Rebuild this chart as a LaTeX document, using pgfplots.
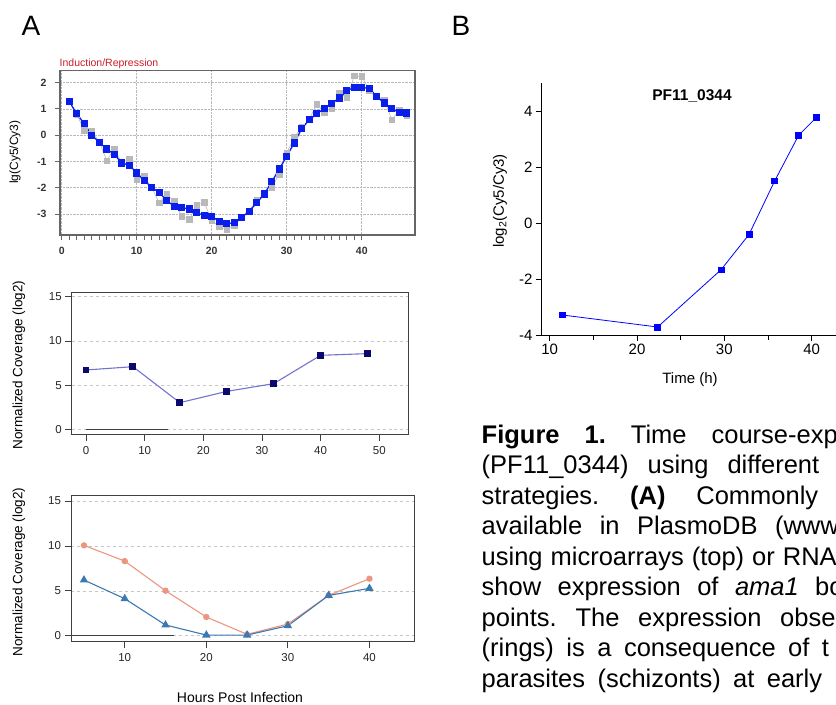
\documentclass[border=0pt]{standalone}
\usepackage{fontspec}
\setmainfont{Liberation Sans}
\usepackage{pgfplots}
\pgfplotsset{compat=1.18}

\definecolor{abblue}{RGB}{10,30,235}
\definecolor{abgray}{RGB}{185,185,185}
\definecolor{navy}{RGB}{10,10,110}
\definecolor{slate}{RGB}{115,115,205}
\definecolor{salmon}{RGB}{234,150,128}
\definecolor{steel}{RGB}{60,120,178}
\definecolor{redtitle}{RGB}{200,30,40}

\newcommand{\fs}[2]{\fontsize{#1bp}{#2bp}\selectfont}
\newcommand{\gap}[1]{\hspace*{#1bp}}

\pgfplotsset{
  panel/.style={scale only axis, anchor=south west, clip=false,
    tick align=outside, tick pos=left,
    /pgf/number format/assume math mode=true},
  rna/.style={panel,
    ytick={0,5,10,15}, ymajorgrids,
    grid style={dashed, gray!45, line width=0.5bp},
    axis line style={black!75, line width=0.9bp},
    every tick/.style={black!75, line width=0.8bp},
    major tick length=6.5bp,
    tick label style={font=\fs{11.5}{13}, text=black!85},
    xticklabel style={yshift=-2bp}},
}

\begin{document}
\begin{tikzpicture}
\useasboundingbox (0,0) rectangle (836bp,-705bp);
\clip (0,0) rectangle (836bp,-705bp);

% panel letters
\node[anchor=base west, inner sep=0, font=\fs{28}{30}] at (21.5bp,-35bp) {A};
\node[anchor=base west, inner sep=0, font=\fs{28}{30}] at (451.5bp,-35bp) {B};

% ---- A top: microarray
\node[anchor=base west, inner sep=0, font=\fs{10.5}{12}, text=redtitle] at (59.5bp,-66bp) {Induction/Repression};
\node[rotate=90, font=\fs{12}{14}] at (15bp,-152bp) {lg(Cy5/Cy3)};
\begin{axis}[panel, at={(60bp,-235bp)}, width=355bp, height=164.3bp,
  xmin=-0.23, xmax=47.1, ymin=-3.8, ymax=2.45,
  xtick={0,10,20,30,40}, ytick={-3,-2,-1,0,1,2}, minor x tick num=9,
  grid=major, major grid style={densely dotted, gray!55, line width=0.6bp},
  axis line style={black!60, line width=1.4bp},
  every tick/.style={black!60, line width=0.7bp},
  major tick length=5bp, minor tick length=5bp,
  tick label style={font=\fs{10.5}{12}\bfseries, text=black!80},
  xticklabel style={yshift=-4bp}, yticklabel style={xshift=-5bp}]
\addplot[abgray, line width=0.6bp, mark=square*, mark size=2.8bp,
  mark options={fill=abgray, draw=abgray}] coordinates {
(1,1.30)(2,0.80)(3,0.18)(4,0.14)(5,-0.25)(6,-0.97)(7,-0.53)(8,-1.05)(9,-0.90)(10,-1.70)
(11,-1.57)(12,-2.00)(13,-2.58)(14,-2.23)(15,-2.52)(16,-3.09)(17,-3.20)(18,-2.67)(19,-2.56)(20,-3.25)
(21,-3.47)(22,-3.59)(23,-3.44)(24,-3.15)(25,-2.90)(26,-2.46)(27,-2.25)(28,-2.01)(29,-1.48)(30,-0.68)
(31,-0.08)(32,0.30)(33,0.60)(34,1.18)(35,0.87)(36,1.03)(37,1.59)(38,1.43)(39,2.25)(40,2.23)
(41,1.71)(42,1.47)(43,1.34)(44,0.58)(45,0.96)(46,0.75)};
\addplot[abblue, line width=1.3bp, mark=square*, mark size=2.9bp,
  mark options={fill=abblue, draw=abblue}] coordinates {
(1,1.28)(2,0.81)(3,0.44)(4,0.00)(5,-0.27)(6,-0.53)(7,-0.73)(8,-1.06)(9,-1.14)(10,-1.44)
(11,-1.72)(12,-2.00)(13,-2.18)(14,-2.49)(15,-2.71)(16,-2.76)(17,-2.81)(18,-2.96)(19,-3.05)(20,-3.09)
(21,-3.28)(22,-3.37)(23,-3.34)(24,-3.13)(25,-2.89)(26,-2.58)(27,-2.24)(28,-1.78)(29,-1.29)(30,-0.80)
(31,-0.30)(32,0.25)(33,0.58)(34,0.81)(35,1.01)(36,1.20)(37,1.41)(38,1.68)(39,1.82)(40,1.81)
(41,1.78)(42,1.47)(43,1.22)(44,1.01)(45,0.86)(46,0.84)};
\end{axis}

% ---- A middle: RNA-seq
\node[rotate=90, font=\fs{13.5}{15}] at (19bp,-365bp) {Normalized Coverage (log2)};
\begin{axis}[rna, at={(71.7bp,-434bp)}, width=336.3bp, height=141.3bp,
  xmin=-2.44, xmax=54.9, ymin=-0.48, ymax=15.43,
  xtick={0,10,20,30,40,50}]
\addplot[black!75, line width=1.2bp, no marks] coordinates {(0,0)(14,0)};
\addplot[slate, line width=1.1bp, mark=square*, mark size=2.9bp,
  mark options={fill=navy, draw=navy}] coordinates {
(0,6.73)(8,7.10)(16,3.05)(24,4.32)(32,5.19)(40,8.38)(48,8.57)};
\end{axis}

% ---- A bottom: RNA-seq, two series
\node[rotate=90, font=\fs{13.5}{15}] at (19bp,-572bp) {Normalized Coverage (log2)};
\node[font=\fs{14}{16}] at (240bp,-697bp) {Hours Post Infection};
\begin{axis}[rna, at={(71bp,-641.7bp)}, width=343.3bp, height=146.7bp,
  xmin=3.41, xmax=45.5, ymin=-0.67, ymax=15.67,
  xtick={10,20,30,40}]
\addplot[black!75, line width=1.2bp, no marks] coordinates {(3.41,0)(16,0)};
\addplot[salmon, line width=1.1bp, mark=*, mark size=2.6bp,
  mark options={fill=salmon, draw=salmon}] coordinates {
(5,10.06)(10,8.31)(15,5.01)(20,2.08)(25,0.15)(30,1.30)(35,4.49)(40,6.35)};
\addplot[steel, line width=1.1bp, mark=triangle*, mark size=3.8bp,
  mark options={fill=steel, draw=steel}] coordinates {
(5,6.20)(10,4.12)(15,1.19)(20,0.07)(25,0.07)(30,1.11)(35,4.49)(40,5.27)};
\end{axis}

% ---- B: PF11_0344
\node[font=\fs{15.5}{17}\bfseries] at (692bp,-96bp) {PF11\_0344};
\node[rotate=90, font=\fs{15}{17}] at (500bp,-201bp) {log\textsubscript{2}(Cy5/Cy3)};
\node[font=\fs{15}{17}] at (690bp,-380bp) {Time (h)};
\begin{axis}[panel, at={(541bp,-335.7bp)}, width=357.9bp, height=252.4bp,
  xmin=9, xmax=50, ymin=-4, ymax=5,
  axis x line*=bottom, axis y line*=left,
  axis line style={black, line width=0.8bp},
  every tick/.style={black, line width=0.8bp},
  xtick={10,20,30,40}, minor xtick={15,25,35}, ytick={-4,-2,0,2,4},
  major tick length=5bp, minor tick length=4bp,
  tick label style={font=\fs{15}{17}}]
\addplot[blue, line width=0.8bp, mark=square*, mark size=2.9bp,
  mark options={fill=blue, draw=blue}] coordinates {
(11.41,-3.26)(22.36,-3.69)(29.62,-1.65)(32.83,-0.39)(35.77,1.52)(38.52,3.15)(40.57,3.79)};
\end{axis}

% ---- caption (clipped at the right edge, as in the page)
\begin{scope}[every node/.style={anchor=base west, inner sep=0, font=\fs{25.5}{30.5}}]
\node at (481.5bp,-443bp) {\textbf{Figure}\gap{25}\textbf{1.}\gap{25}Time\gap{25}course-exp};
\node at (481.5bp,-473.5bp) {(PF11\_0344)\gap{19}using\gap{19}different};
\node at (481.5bp,-504bp) {strategies.\gap{30.8}\textbf{(A)}\gap{30.8}Commonly};
\node at (481.5bp,-534.5bp) {available\gap{17.5}in\gap{17.5}PlasmoDB\gap{17.5}(www};
\node at (481.5bp,-565bp) {using\gap{8}microarrays\gap{8}(top)\gap{8}or\gap{8}RNA};
\node at (481.5bp,-595.5bp) {show\gap{16.4}expression\gap{16.4}of\gap{16.4}\textit{ama1}\gap{16.4}bo};
\node at (481.5bp,-626bp) {points.\gap{18.7}The\gap{18.7}expression\gap{18.7}obse};
\node at (481.5bp,-656.5bp) {(rings)\gap{12.5}is\gap{12.5}a\gap{12.5}consequence\gap{12.5}of\gap{12.5}t};
\node at (481.5bp,-687bp) {parasites\gap{12.4}(schizonts)\gap{12.4}at\gap{12.4}early};
\end{scope}
\end{tikzpicture}
\end{document}
